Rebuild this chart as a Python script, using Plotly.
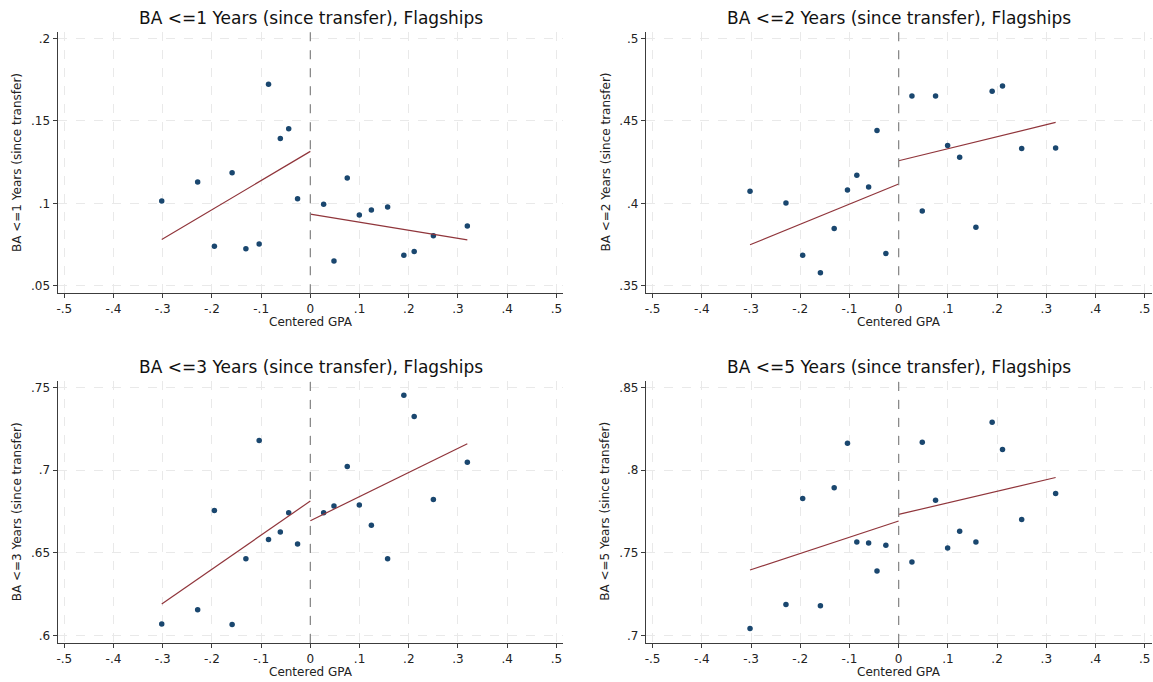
import plotly.graph_objects as go
from plotly.subplots import make_subplots

# Binned centered GPA (shared by all four outcomes)
gpa_bins = [-0.302, -0.229, -0.195, -0.159, -0.131, -0.104, -0.085, -0.061, -0.044, -0.026,
            0.027, 0.048, 0.075, 0.0995, 0.124, 0.157, 0.190, 0.211, 0.250, 0.319]

# Bin means of each graduation outcome
ba_1yr = [0.1014, 0.1129, 0.0740, 0.1185, 0.0724, 0.0754, 0.1722, 0.1393, 0.1452, 0.1028,
          0.0994, 0.0651, 0.1153, 0.0929, 0.0960, 0.0978, 0.0685, 0.0708, 0.0804, 0.0863]
ba_2yr = [0.4073, 0.4002, 0.3685, 0.3579, 0.3847, 0.4081, 0.4171, 0.4099, 0.4442, 0.3696,
          0.4651, 0.3954, 0.4651, 0.4351, 0.4280, 0.3855, 0.4679, 0.4712, 0.4333, 0.4335]
ba_3yr = [0.6070, 0.6156, 0.6756, 0.6066, 0.6464, 0.7179, 0.6581, 0.6625, 0.6742, 0.6553,
          0.6742, 0.6783, 0.7022, 0.6789, 0.6666, 0.6464, 0.7453, 0.7324, 0.6823, 0.7048]
ba_5yr = [0.7042, 0.7188, 0.7829, 0.7180, 0.7893, 0.8163, 0.7565, 0.7559, 0.7390, 0.7545,
          0.7444, 0.8169, 0.7817, 0.7529, 0.7630, 0.7565, 0.8290, 0.8125, 0.7702, 0.7859]

# Linear fits on each side of the cutoff (intercept at 0, slope)
fit_left_intercept = [0.1315, 0.4117, 0.6813, 0.7692]
fit_left_slope = [0.177, 0.122, 0.206, 0.098]
fit_right_intercept = [0.0935, 0.4258, 0.6694, 0.7732]
fit_right_slope = [-0.049, 0.073, 0.146, 0.070]

years = [1, 2, 3, 5]
outcomes = [ba_1yr, ba_2yr, ba_3yr, ba_5yr]

# y tick values / labels for each panel
y_ticks = [[0.05, 0.10, 0.15, 0.20], [0.35, 0.40, 0.45, 0.50],
           [0.60, 0.65, 0.70, 0.75], [0.70, 0.75, 0.80, 0.85]]
y_ticktext = [[".05", ".1", ".15", ".2"], [".35", ".4", ".45", ".5"],
              [".6", ".65", ".7", ".75"], [".7", ".75", ".8", ".85"]]
x_ticks = [-0.5, -0.4, -0.3, -0.2, -0.1, 0.0, 0.1, 0.2, 0.3, 0.4, 0.5]
x_ticktext = ["-.5", "-.4", "-.3", "-.2", "-.1", "0", ".1", ".2", ".3", ".4", ".5"]

W, H = 1153, 682
FONT = "DejaVu Sans"
NAVY = "#1a476f"
MAROON = "#90353b"
AXIS = "#3c3c3c"
GRID = "#e9e9e9"

# panel pixel boxes: (left, right, top, bottom)
boxes = [(57.7, 563.3, 31.7, 293.3), (646.0, 1151.6, 31.7, 293.3),
         (57.7, 563.3, 380.7, 643.0), (646.0, 1151.6, 380.7, 643.0)]
ytitle_x = [16.5, 605.0, 16.5, 605.0]

fig = make_subplots(rows=2, cols=2)
annotations = []
shapes = []

for i in range(4):
    r, c = i // 2 + 1, i % 2 + 1
    y = outcomes[i]
    xmin, xmax = min(gpa_bins), max(gpa_bins)

    fig.add_trace(go.Scatter(x=gpa_bins, y=y, mode="markers",
                             marker=dict(color=NAVY, size=5.5),
                             showlegend=False, hoverinfo="skip"), row=r, col=c)
    # fitted lines left and right of the cutoff
    fig.add_trace(go.Scatter(
        x=[xmin, 0.0],
        y=[fit_left_intercept[i] + fit_left_slope[i] * xmin, fit_left_intercept[i]],
        mode="lines", line=dict(color=MAROON, width=1.2),
        showlegend=False, hoverinfo="skip"), row=r, col=c)
    fig.add_trace(go.Scatter(
        x=[0.0, xmax],
        y=[fit_right_intercept[i], fit_right_intercept[i] + fit_right_slope[i] * xmax],
        mode="lines", line=dict(color=MAROON, width=1.2),
        showlegend=False, hoverinfo="skip"), row=r, col=c)

    left, right, top, bottom = boxes[i]
    xd = [left / W, right / W]
    yd = [1 - bottom / H, 1 - top / H]
    yt = y_ticks[i]
    step = yt[1] - yt[0]
    pad_lo, pad_hi = step * 7.5 / 82.5, step * 6.7 / 82.5

    fig.update_xaxes(domain=xd, range=[-0.5134, 0.514], tickvals=x_ticks, ticktext=x_ticktext,
                     showline=True, linecolor=AXIS, linewidth=1.3, ticks="outside",
                     ticklen=4, tickcolor=AXIS, tickwidth=1.2,
                     showgrid=True, gridcolor=GRID, griddash="dash", gridwidth=1,
                     zeroline=False, tickfont=dict(family=FONT, size=12, color="#222"),
                     row=r, col=c)
    fig.update_yaxes(domain=yd, range=[yt[0] - pad_lo, yt[-1] + pad_hi], tickvals=yt,
                     ticktext=y_ticktext[i],
                     showline=True, linecolor=AXIS, linewidth=1.3, ticks="outside",
                     ticklen=4, tickcolor=AXIS, tickwidth=1.2,
                     showgrid=True, gridcolor=GRID, griddash="dash", gridwidth=1,
                     zeroline=False, tickfont=dict(family=FONT, size=12, color="#222"),
                     row=r, col=c)

    xref = "x" if i == 0 else f"x{i + 1}"
    yref = "y" if i == 0 else f"y{i + 1}"
    # cutoff marker at centered GPA = 0
    shapes.append(dict(type="line", xref=xref, yref=f"{yref} domain", x0=0, x1=0, y0=0, y1=1,
                       line=dict(color="#8a8a8a", width=1.3, dash="dash")))

    cx = (left + right) / 2 / W
    annotations.append(dict(text=f"BA <={years[i]} Years (since transfer), Flagships",
                            xref="paper", yref="paper", x=cx, y=1 - (top - 13.5) / H,
                            showarrow=False, xanchor="center", yanchor="middle",
                            font=dict(family=FONT, size=17, color="#111")))
    annotations.append(dict(text="Centered GPA", xref="paper", yref="paper",
                            x=cx, y=1 - (bottom + 28.5) / H, showarrow=False,
                            xanchor="center", yanchor="middle",
                            font=dict(family=FONT, size=12, color="#222")))
    annotations.append(dict(text=f"BA <={years[i]} Years (since transfer)", xref="paper",
                            yref="paper", x=ytitle_x[i] / W, y=1 - (top + bottom) / 2 / H,
                            textangle=-90, showarrow=False, xanchor="center",
                            yanchor="middle", font=dict(family=FONT, size=12, color="#222")))

fig.update_layout(width=W, height=H, margin=dict(l=0, r=0, t=0, b=0),
                  paper_bgcolor="white", plot_bgcolor="white",
                  annotations=annotations, shapes=shapes, showlegend=False)

fig.write_html("out.html")
